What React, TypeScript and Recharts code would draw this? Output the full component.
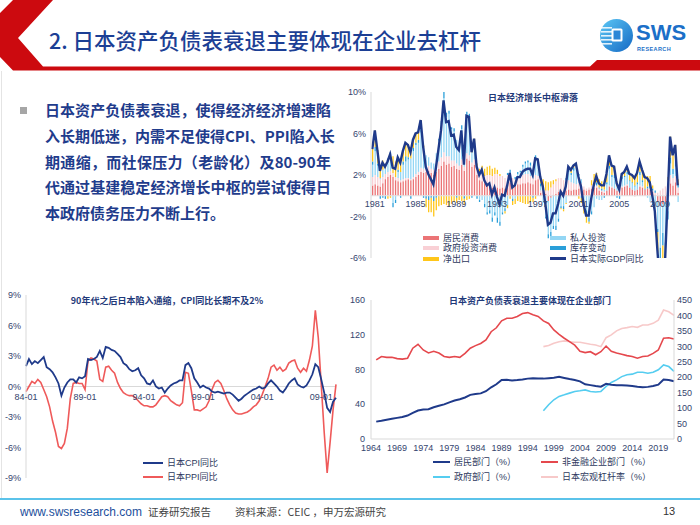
import React from "react";
import { ComposedChart, LineChart, Bar, Line, XAxis, YAxis, ReferenceLine } from "recharts";

const FONT = "'Liberation Sans', Arial, 'Noto Sans CJK SC', sans-serif";
const CJK = "'Noto Sans CJK SC', 'Liberation Sans', sans-serif";
const TICK = "#34446e";
const NAVY = "#1f3a8a";

// ---------- 图1 日本经济增长中枢滑落（季度同比，1980Q4 - 2010Q4）
const gdpQuarters = [
  "1980Q4",
  ...Array.from({ length: 30 }, (_, i) => 1981 + i).flatMap((y) => [`${y}Q1`, `${y}Q2`, `${y}Q3`, `${y}Q4`]),
];
const gdpTickYears = ["1981", "1985", "1989", "1993", "1997", "2001", "2005", "2009"];

const gdpYoy = [
  4.5,
  6.3, 4.4, 2.4, 3.2, 2.8, 3.3, 4.0, 2.7, 2.6, 3.7, 3.2, 4.3, 5.1, 4.9, 4.2, 5.4,
  6.0, 6.1, 7.3, 4.7, 2.8, 2.1, 1.6, 1.1, 2.7, 4.5, 6.3, 9.2, 7.1, 7.2, 5.8, 5.9,
  4.7, 4.4, 6.3, 3.0, 7.7, 7.6, 4.2, 5.5, 2.8, 2.0, 2.5, 1.5, 1.0, 1.2, 0.1, 0.8,
  -0.1, -0.8, 0.1, 0.0, 1.0, 2.2, 0.8, 1.0, 1.8, 1.8, 2.3, 2.5, 2.6, 2.6, 2.0, 3.6,
  3.5, 1.8, 0.9, -0.8, -2.8, -2.6, -1.7, -1.7, -0.8, 0.4, 0.0, 0.9, 2.8, 2.5, 2.9, 3.1,
  1.8, 0.9, -0.8, -1.9, -1.9, -0.3, 1.0, 1.9, 1.2, 1.0, 1.0, 2.1, 3.9, 2.9, 2.8, 1.2,
  0.6, 2.1, 2.3, 2.8, 2.1, 2.0, 1.7, 2.2, 3.3, 2.5, 1.8, 1.7, 1.3, 0.0, -1.5, -5.2,
  -8.5, -6.3, -6.4, -0.5, 5.7, 3.9, 4.9, 1.0,
];
const household = [
  1.0,
  1.1, 1.0, 0.9, 1.2, 1.6, 1.8, 2.0, 1.8, 1.5, 1.4, 1.3, 1.4, 1.5, 1.6, 1.5, 1.6,
  1.8, 2.0, 2.3, 2.2, 2.3, 2.4, 2.2, 2.0, 2.3, 2.6, 2.9, 3.3, 3.0, 3.1, 2.8, 2.9,
  2.6, 2.5, 3.0, 2.4, 3.6, 3.4, 2.8, 3.0, 2.0, 1.5, 1.4, 1.2, 1.1, 1.0, 0.8, 0.9,
  0.8, 0.7, 0.8, 0.7, 1.1, 1.3, 1.0, 1.0, 1.1, 1.1, 1.2, 1.2, 1.3, 1.2, 1.1, 1.5,
  1.6, 0.3, 0.4, 0.2, -0.5, -0.2, 0.1, 0.2, 0.4, 0.5, 0.4, 0.5, 0.6, 0.5, 0.6, 0.6,
  0.7, 0.8, 0.6, 0.5, 0.6, 0.7, 0.8, 0.8, 0.5, 0.4, 0.3, 0.5, 0.9, 0.8, 0.7, 0.5,
  0.6, 0.8, 0.9, 1.0, 0.8, 0.6, 0.5, 0.6, 0.9, 0.8, 0.6, 0.7, 0.6, 0.4, 0.1, -0.6,
  -1.0, -0.8, -0.6, 0.5, 1.2, 1.0, 1.3, 0.3,
];
const government = [
  0.8,
  0.9, 0.8, 0.7, 0.6, 0.5, 0.5, 0.4, 0.4, 0.3, 0.3, 0.2, 0.2, 0.2, 0.1, 0.1, 0.2,
  0.3, 0.3, 0.4, 0.4, 0.4, 0.5, 0.4, 0.5, 0.6, 0.7, 0.8, 0.9, 0.8, 0.7, 0.6, 0.5,
  0.5, 0.4, 0.5, 0.4, 0.5, 0.5, 0.4, 0.5, 0.5, 0.6, 0.7, 0.7, 0.9, 1.0, 1.1, 1.2,
  1.3, 1.2, 1.1, 1.0, 0.9, 0.8, 0.7, 0.6, 0.7, 0.8, 0.8, 0.9, 0.8, 0.7, 0.6, 0.5,
  0.3, 0.2, 0.2, 0.3, 0.5, 0.8, 1.0, 1.2, 1.3, 1.2, 1.1, 1.0, 0.9, 0.8, 0.6, 0.5,
  0.5, 0.4, 0.3, 0.2, 0.2, 0.3, 0.3, 0.2, 0.2, 0.1, 0.1, 0.0, 0.1, 0.1, 0.0, 0.0,
  0.1, 0.1, 0.1, 0.1, 0.0, 0.0, -0.1, 0.0, 0.1, 0.1, 0.0, 0.0, 0.1, 0.1, 0.2, 0.3,
  0.5, 0.7, 0.9, 1.0, 0.8, 0.7, 0.6, 0.5,
];
const privateInv = [
  1.2,
  2.3, 1.1, 0.1, 0.7, 0.6, 1.1, 1.5, -0.7, -0.4, 0.6, 0.8, 1.4, 1.6, 1.8, 2.0, 2.5,
  2.8, 2.8, 3.4, 2.0, 1.2, 0.8, 0.6, 0.6, 1.2, 2.0, 3.2, 5.2, 3.8, 4.1, 3.0, 2.8,
  2.3, 1.7, 2.9, 1.1, 3.5, 3.6, 1.0, 1.3, 0.0, -0.4, -0.4, -0.8, -1.6, -1.4, -2.1, -1.6,
  -2.1, -2.5, -1.6, -1.2, -0.9, 0.1, -0.3, -0.3, 0.3, 0.4, 0.8, 1.0, 1.1, 1.0, 0.9, 1.6,
  1.0, 0.4, -0.7, -2.0, -3.2, -3.3, -2.9, -2.9, -2.2, -1.0, -1.0, -0.7, 0.8, 0.7, 1.2, 1.7,
  0.8, 0.4, -0.6, -1.4, -2.1, -1.5, -1.1, -0.3, -0.4, -0.4, 0.2, 0.6, 1.6, 0.9, 1.0, 0.4,
  0.0, 0.7, 0.8, 1.0, 0.6, 0.6, 0.4, 0.5, 1.0, 0.4, 0.0, -0.2, -0.6, -1.0, -1.5, -2.6,
  -4.0, -2.8, -3.9, -1.5, 1.1, 0.4, 0.9, -0.6,
];
const inventory = [
  0.3,
  0.4, 0.2, -0.3, -0.2, -0.3, 0.2, 0.3, -0.4, -0.3, 0.2, -0.2, 0.3, 0.5, 0.2, -0.3, 0.3,
  0.2, 0.3, 0.4, -0.2, -0.3, -0.4, -0.2, -0.5, -0.2, 0.2, 0.3, 0.6, 0.4, 0.3, 0.2, 0.3,
  -0.2, 0.2, 0.4, -0.3, 0.5, 0.4, -0.2, 0.3, -0.3, -0.2, 0.2, -0.3, -0.2, -0.3, -0.4, -0.3,
  -0.5, -0.4, -0.2, -0.3, 0.2, 0.3, -0.2, 0.2, 0.2, 0.1, 0.2, 0.2, 0.2, 0.3, -0.2, 0.3,
  0.4, 0.3, 0.2, -0.2, -0.4, -0.5, -0.3, -0.4, -0.3, -0.2, -0.3, 0.2, 0.3, 0.2, 0.3, 0.2,
  0.1, -0.2, -0.3, -0.5, -0.4, -0.3, 0.2, 0.3, 0.1, 0.2, -0.2, 0.2, 0.3, 0.2, 0.3, -0.2,
  -0.3, 0.2, 0.1, 0.2, 0.1, 0.1, 0.1, 0.2, 0.3, 0.2, 0.1, 0.2, 0.3, 0.2, 0.2, -0.3,
  -1.0, -1.2, -1.3, -0.8, 0.6, 0.5, 0.6, 0.3,
];
const netExports = [
  1.2,
  1.6, 1.3, 1.0, 0.9, 0.4, -0.3, -0.2, 1.6, 1.5, 1.2, 1.1, 1.0, 1.3, 1.2, 0.9, 0.8,
  0.9, 0.7, 0.8, 0.3, -0.8, -1.2, -1.4, -1.5, -1.2, -1.0, -0.9, -0.8, -0.9, -1.0, -0.8, -0.6,
  -0.5, -0.4, -0.5, -0.6, -0.4, -0.3, 0.2, 0.4, 0.6, 0.5, 0.6, 0.7, 0.8, 0.9, 0.7, 0.6,
  0.4, 0.2, 0.0, -0.2, -0.3, -0.3, -0.4, -0.5, -0.5, -0.6, -0.7, -0.8, -0.8, -0.6, -0.4, -0.3,
  0.2, 0.6, 0.8, 0.9, 0.8, 0.6, 0.4, 0.2, 0.0, -0.1, -0.2, -0.1, 0.2, 0.3, 0.2, 0.1,
  -0.3, -0.5, -0.8, -0.7, -0.2, 0.5, 0.8, 0.9, 0.8, 0.7, 0.6, 0.8, 1.0, 0.9, 0.8, 0.5,
  0.2, 0.3, 0.4, 0.5, 0.6, 0.7, 0.8, 0.9, 1.0, 1.0, 1.1, 1.0, 0.9, 0.3, -0.5, -2.0,
  -3.0, -2.2, -1.5, 0.3, 2.0, 1.3, 1.5, 0.5,
];

// ---------- 图2 CPI / PPI 同比（季度，1984Q1 - 2010Q2）
const priceMonths = Array.from({ length: 27 }, (_, i) => 1984 + i)
  .flatMap((y) => ["01", "04", "07", "10"].map((m) => `${String(y).slice(2)}-${m}`))
  .slice(0, 106);
const cpiYoy = [
  2.0, 2.7, 2.2, 2.5, 2.3, 2.6, 2.9, 1.9, 1.7, 1.4, 0.9, 0.3, -0.9, -0.1, 0.4, 0.7,
  0.7, 0.4, 0.9, 0.8, 1.0, 2.7, 2.6, 2.7, 2.9, 3.5, 2.8, 3.9, 3.8, 3.6, 3.5, 3.2,
  2.9, 2.3, 2.1, 1.7, 1.5, 1.6, 1.8, 1.1, 0.8, 0.3, 0.2, 0.6, 0.0, -0.2, -0.1, -0.6,
  -0.2, 0.1, 0.3, 0.4, 0.6, 0.6, 2.1, 2.3, 1.8, 0.8, 0.4, -0.1, 0.1, -0.1, -0.2, -0.5,
  -0.6, -0.5, -0.6, -0.7, -0.6, -0.6, -0.8, -1.1, -1.4, -1.2, -0.9, -0.7, -0.5, -0.3, -0.2, 0.0,
  -0.2, -0.1, 0.3, 0.6, 0.3, 0.0, -0.4, -0.6, -0.2, 0.3, 0.6, 0.8, 0.2, 0.0, -0.1, 0.1,
  0.6, 1.2, 2.2, 1.9, 0.7, -0.6, -2.1, -2.5, -1.5, -1.1,
];
const ppiYoy = [
  -0.5, 0.0, 0.5, 0.3, 0.7, 0.4, -0.3, -1.0, -2.0, -3.4, -4.5, -5.9, -6.1, -5.6, -4.1, -1.2,
  0.3, 0.4, 0.3, 0.3, -0.3, 2.5, 2.8, 2.7, 2.5, 0.7, 0.5, 1.9, 2.0, 1.6, 1.3, 0.4,
  -0.2, -0.6, -0.8, -0.9, -0.9, -1.1, -1.4, -1.7, -1.9, -1.9, -2.0, -2.0, -1.8, -1.4, -1.0, -0.9,
  -1.0, -1.4, -1.6, -1.8, -1.9, -1.6, 1.4, 1.3, -0.4, -2.3, -2.3, -2.4, -2.2, -2.0, -1.4, -0.3,
  0.4, 0.6, 0.3, -0.4, -1.2, -1.8, -2.3, -2.6, -2.7, -2.7, -2.6, -2.5, -2.3, -2.0, -1.8, -1.4,
  -0.8, 0.0, 0.8, 1.9, 2.1, 1.6, 1.9, 1.5, 1.7, 2.3, 2.5, 2.6, 1.8, 1.4, 1.8, 1.5,
  2.6, 4.0, 7.5, 4.8, 0.2, -4.5, -8.5, -5.5, -2.3, 0.2,
];

// ---------- 图3 各部门杠杆率（年度）
const levYears = Array.from({ length: 58 }, (_, i) => 1965 + i);
const levTicks = [1964, 1969, 1974, 1979, 1984, 1989, 1994, 1999, 2004, 2009, 2014, 2019];
const householdLev = [
  20.0, 21.0, 22.2, 23.2, 24.3, 25.3, 27.0, 30.0, 32.8, 34.0, 34.3, 36.5, 38.2, 39.8, 42.2,
  44.3, 45.8, 47.8, 50.8, 51.8, 52.5, 55.0, 59.5, 63.0, 68.0, 68.2, 67.3, 67.8, 68.5, 69.5,
  70.0, 69.6, 69.5, 70.0, 70.6, 71.5, 70.2, 69.0, 68.0, 66.3, 63.0, 62.0, 61.0, 60.2, 63.5,
  62.5, 62.0, 62.0, 61.5, 61.0, 60.2, 59.6, 60.0, 61.0, 62.5, 68.5, 68.0, 66.5,
];
const corpLev = [
  91, 95, 94, 94, 92.5, 92, 93, 104.5, 109, 102.5, 99, 101, 99, 95, 94,
  95, 94, 98.5, 104.5, 107.5, 110, 114, 123.5, 128, 136, 139, 139, 141, 144.5, 145.5,
  143, 141, 136, 133, 125.5, 120.5, 116, 112, 108, 101, 99.5, 100.5, 97, 100.5, 107,
  101, 99, 97.5, 96, 95, 93, 95, 95.5, 98.5, 102.5, 116, 116.5, 115,
];
// 1997 起
const govLev = [
  91.5, 111, 127, 138, 143, 148.5, 154, 156, 159, 154, 152, 154, 170, 183, 191.5, 202, 208,
  210, 216, 216, 213, 216, 224, 240, 234.5, 219,
];
const macroLev = [
  299, 302.5, 310, 315, 317.5, 315, 313, 313, 310, 307, 304.5, 299, 328, 337, 350, 358, 360.5,
  364, 361.5, 369, 369, 374.5, 385, 417.5, 412, 400,
];

const bodyLines = [
  "日本资产负债表衰退，使得经济经济增速陷",
  "入长期低迷，内需不足使得CPI、PPI陷入长",
  "期通缩，而社保压力（老龄化）及80-90年",
  "代通过基建稳定经济增长中枢的尝试使得日",
  "本政府债务压力不断上行。",
];

const C_HH = "#eb7476";
const C_PRIV = "#93d6f4";
const C_GOV = "#f9d0d5";
const C_INV = "#2a9fd9";
const C_NX = "#ffc61a";

const gdpData = gdpQuarters.map((q, i) => ({
  q,
  gdp: gdpYoy[i],
  household: household[i],
  government: government[i],
  privateInv: privateInv[i],
  inventory: inventory[i],
  netExports: netExports[i],
}));
const priceData = priceMonths.map((m, i) => ({ m, cpi: cpiYoy[i], ppi: ppiYoy[i] }));
const levData = levYears.map((y, i) => ({
  year: y,
  household: householdLev[i],
  corp: corpLev[i],
  gov: y >= 1997 ? govLev[y - 1997] : null,
  macro: y >= 1997 ? macroLev[y - 1997] : null,
}));

const tickStyle = { fontSize: 9, fill: TICK, fontFamily: FONT };

function GdpTick(props: any) {
  const { x, y, payload } = props;
  const q = String(payload.value);
  if (!q.endsWith("Q1") || !gdpTickYears.includes(q.slice(0, 4))) return <g />;
  return (
    <text x={x} y={y - 57} dy="0.71em" textAnchor="middle" {...tickStyle}>
      {q.slice(0, 4)}
    </text>
  );
}

function PriceTick(props: any) {
  const { x, y, payload } = props;
  return (
    <text x={x} y={y - 84} dy="0.71em" textAnchor="middle" {...tickStyle}>
      {payload.value}
    </text>
  );
}

function Swatch({ left, top, color, label, h = 4, w = 16 }: any) {
  return (
    <div style={{ position: "absolute", left, top: top - 5, height: 10, lineHeight: "10px", display: "flex", alignItems: "center", whiteSpace: "nowrap" }}>
      <span style={{ display: "inline-block", width: w, height: h, background: color, marginRight: 4 }} />
      <span style={{ fontSize: 9, lineHeight: "10px", color: "#2e3a5e", fontFamily: FONT }}>{label}</span>
    </div>
  );
}

function ChartTitle({ cx, cy, text }: any) {
  return (
    <div
      style={{
        position: "absolute",
        left: cx,
        top: cy,
        transform: "translate(-50%, -50%)",
        whiteSpace: "nowrap",
        fontSize: 9,
        fontWeight: 700,
        color: "#1f3a7a",
        fontFamily: CJK,
      }}
    >
      {text}
    </div>
  );
}

function Logo() {
  return (
    <div style={{ position: "absolute", left: 599, top: 18, width: 90, height: 36 }}>
      <svg width={36} height={36} style={{ position: "absolute", left: 0, top: 0 }}>
        <defs>
          <linearGradient id="lg" x1="0" y1="0" x2="1" y2="1">
            <stop offset="0" stopColor="#5cc8f5" />
            <stop offset="1" stopColor="#1468c4" />
          </linearGradient>
        </defs>
        <circle cx={17.5} cy={17.5} r={16.5} fill="url(#lg)" />
        {[9, 13, 17, 21, 25].map((yy) => (
          <rect key={yy} x={2} y={yy} width={11} height={1.6} fill="#fff" opacity={0.85} />
        ))}
        <rect x={12.5} y={10.5} width={11} height={13} rx={1.5} fill="#fff" />
        <rect x={14.5} y={12.5} width={7} height={9} fill="#2b86d6" />
      </svg>
      <div style={{ position: "absolute", left: 37, top: 2, fontSize: 22, fontWeight: 700, color: "#1b6fc8", fontFamily: FONT, whiteSpace: "nowrap" }}>
        SWS
      </div>
      <div style={{ position: "absolute", left: 38, top: 27.5, fontSize: 5.5, fontWeight: 700, color: "#1b6fc8", fontFamily: FONT, letterSpacing: 0.4, whiteSpace: "nowrap" }}>
        RESEARCH
      </div>
    </div>
  );
}

export default function App() {
  return (
    <div style={{ position: "absolute", left: 0, top: 0, width: 700, height: 525, background: "#fff", overflow: "hidden", fontFamily: CJK }}>
      {/* header */}
      <svg width={700} height={75} style={{ position: "absolute", left: 0, top: 0 }}>
        <polygon
          points="13,0 53,0 18,38 43,66.5 590,66.5 597,60 700,60 700,70.5 13,70.5 0,57 0,13"
          fill="#cc0a0f"
        />
      </svg>
      <div style={{ position: "absolute", left: 1, top: 71, width: 1, height: 428, background: "#e4e4e4" }} />
      <div
        style={{
          position: "absolute",
          left: 49,
          top: 26,
          fontSize: 21.5,
          lineHeight: "28px",
          color: "#1c3f95",
          fontWeight: 500,
          fontFamily: CJK,
          whiteSpace: "nowrap",
        }}
      >
        2. 日本资产负债表衰退主要体现在企业去杠杆
      </div>
      <Logo />

      {/* bullet text */}
      <div style={{ position: "absolute", left: 20, top: 107, width: 7, height: 7, background: "#a6a6a6" }} />
      {bodyLines.map((t, i) => (
        <div
          key={i}
          style={{
            position: "absolute",
            left: 45,
            top: 110 + i * 25.75 - 12,
            width: 286,
            height: 24,
            lineHeight: "24px",
            fontSize: 15,
            fontWeight: 700,
            color: "#1f3c8c",
            fontFamily: CJK,
            whiteSpace: "nowrap",
            textAlign: "justify",
            textAlignLast: i < bodyLines.length - 1 ? "justify" : "left",
          }}
        >
          {t}
        </div>
      ))}

      {/* chart 1 */}
      <div style={{ position: "absolute", left: 343, top: 80 }}>
        <ComposedChart width={357} height={190} data={gdpData} stackOffset="sign" margin={{ top: 12, right: 21, bottom: 0, left: 7 }}>
          <XAxis dataKey="q" interval={0} height={12} tickLine={false} axisLine={false} tickSize={0} tickMargin={0} tick={(p: any) => <GdpTick {...p} />} />
          <YAxis
            domain={[-6, 10]}
            ticks={[-6, -2, 2, 6, 10]}
            allowDataOverflow
            width={21}
            tickLine={false}
            tickSize={0}
            tickMargin={5}
            axisLine={{ stroke: "#d9d9d9" }}
            tick={tickStyle}
            tickFormatter={(v: number) => `${v}%`}
          />
          <ReferenceLine y={0} stroke="#e2e2e2" />
          <Bar dataKey="household" stackId="a" fill={C_HH} barSize={1.3} isAnimationActive={false} />
          <Bar dataKey="government" stackId="a" fill={C_GOV} barSize={1.3} isAnimationActive={false} />
          <Bar dataKey="privateInv" stackId="a" fill={C_PRIV} barSize={1.3} isAnimationActive={false} />
          <Bar dataKey="inventory" stackId="a" fill={C_INV} barSize={1.3} isAnimationActive={false} />
          <Bar dataKey="netExports" stackId="a" fill={C_NX} barSize={1.3} isAnimationActive={false} />
          <Line dataKey="gdp" type="linear" stroke={NAVY} strokeWidth={2.4} dot={false} isAnimationActive={false} />
        </ComposedChart>
      </div>
      <ChartTitle cx={533} cy={97} text="日本经济增长中枢滑落" />
      <Swatch left={423} top={237.6} color={C_HH} label="居民消费" />
      <Swatch left={423} top={248.1} color={C_GOV} label="政府投资消费" />
      <Swatch left={423} top={258.6} color={C_NX} label="净出口" />
      <Swatch left={550} top={237.6} color={C_PRIV} label="私人投资" />
      <Swatch left={550} top={248.1} color={C_INV} label="库存变动" />
      <Swatch left={550} top={258.6} color={NAVY} label="日本实际GDP同比" h={2.5} />

      {/* chart 2 */}
      <div style={{ position: "absolute", left: 0, top: 285 }}>
        <LineChart width={350} height={215} data={priceData} margin={{ top: 10, right: 14, bottom: 0, left: 0 }}>
          <XAxis dataKey="m" interval={19} height={22} tickLine={false} axisLine={false} tickSize={0} tickMargin={0} tick={(p: any) => <PriceTick {...p} />} />
          <YAxis
            domain={[-9, 9]}
            ticks={[-9, -6, -3, 0, 3, 6, 9]}
            allowDataOverflow
            width={26}
            tickLine={false}
            tickSize={0}
            tickMargin={5}
            axisLine={{ stroke: "#d9d9d9" }}
            tick={tickStyle}
            tickFormatter={(v: number) => `${v}%`}
          />
          <ReferenceLine y={0} stroke="#d9d9d9" />
          <Line dataKey="ppi" type="linear" stroke="#ef5a5a" strokeWidth={1.6} dot={false} isAnimationActive={false} />
          <Line dataKey="cpi" type="linear" stroke={NAVY} strokeWidth={1.8} dot={false} isAnimationActive={false} />
        </LineChart>
      </div>
      <ChartTitle cx={167} cy={300} text="90年代之后日本陷入通缩，CPI同比长期不及2%" />
      <Swatch left={143} top={463} color={NAVY} label="日本CPI同比" h={2} w={20} />
      <Swatch left={143} top={477} color="#ef5a5a" label="日本PPI同比" h={2} w={20} />

      {/* chart 3 */}
      <div style={{ position: "absolute", left: 350, top: 285 }}>
        <LineChart width={350} height={170} data={levData} margin={{ top: 15, right: 0, bottom: 0, left: 0 }}>
          <XAxis
            dataKey="year"
            type="number"
            domain={[1964, 2022]}
            ticks={levTicks}
            interval={0}
            height={16}
            tickLine={false}
            tickSize={0}
            tickMargin={6}
            axisLine={{ stroke: "#d9d9d9" }}
            tick={tickStyle}
          />
          <YAxis yAxisId="l" domain={[0, 160]} ticks={[0, 40, 80, 120, 160]} width={21} tickLine={false} tickSize={0} tickMargin={6} axisLine={{ stroke: "#d9d9d9" }} tick={tickStyle} />
          <YAxis
            yAxisId="r"
            orientation="right"
            domain={[0, 450]}
            ticks={[0, 50, 100, 150, 200, 250, 300, 350, 400, 450]}
            width={26}
            tickLine={false}
            tickSize={0}
            tickMargin={3}
            axisLine={{ stroke: "#d9d9d9" }}
            tick={{ ...tickStyle, textAnchor: "start" }}
          />
          <Line yAxisId="r" dataKey="macro" type="linear" stroke="#f7c9c9" strokeWidth={1.6} dot={false} isAnimationActive={false} />
          <Line yAxisId="r" dataKey="gov" type="linear" stroke="#55cdf0" strokeWidth={1.6} dot={false} isAnimationActive={false} />
          <Line yAxisId="l" dataKey="corp" type="linear" stroke="#e5484d" strokeWidth={1.6} dot={false} isAnimationActive={false} />
          <Line yAxisId="l" dataKey="household" type="linear" stroke={NAVY} strokeWidth={2} dot={false} isAnimationActive={false} />
        </LineChart>
      </div>
      <ChartTitle cx={530} cy={300} text="日本资产负债表衰退主要体现在企业部门" />
      <Swatch left={433} top={462} color={NAVY} label="居民部门（%）" h={2.5} w={17} />
      <Swatch left={541} top={462} color="#e5484d" label="非金融企业部门（%）" h={2} w={17} />
      <Swatch left={433} top={477} color="#55cdf0" label="政府部门（%）" h={2} w={17} />
      <Swatch left={541} top={477} color="#f7c9c9" label="日本宏观杠杆率（%）" h={2} w={17} />

      {/* footer */}
      <div style={{ position: "absolute", left: 0, top: 498, width: 700, height: 2, background: "#5bc3ea" }} />
      <div style={{ position: "absolute", left: 20, top: 505, fontSize: 12, color: "#1d4f9c", fontFamily: FONT, whiteSpace: "nowrap" }}>
        www.swsresearch.com
      </div>
      <div style={{ position: "absolute", left: 148, top: 505, fontSize: 10.5, color: "#444", fontFamily: CJK, whiteSpace: "nowrap", lineHeight: "14px" }}>
        证券研究报告
      </div>
      <div style={{ position: "absolute", left: 235, top: 505, fontSize: 10.5, color: "#444", fontFamily: CJK, whiteSpace: "nowrap", lineHeight: "14px" }}>
        资料来源：CEIC ，申万宏源研究
      </div>
      <div style={{ position: "absolute", left: 663, top: 505, fontSize: 11, color: "#333", fontFamily: FONT }}>13</div>
    </div>
  );
}
